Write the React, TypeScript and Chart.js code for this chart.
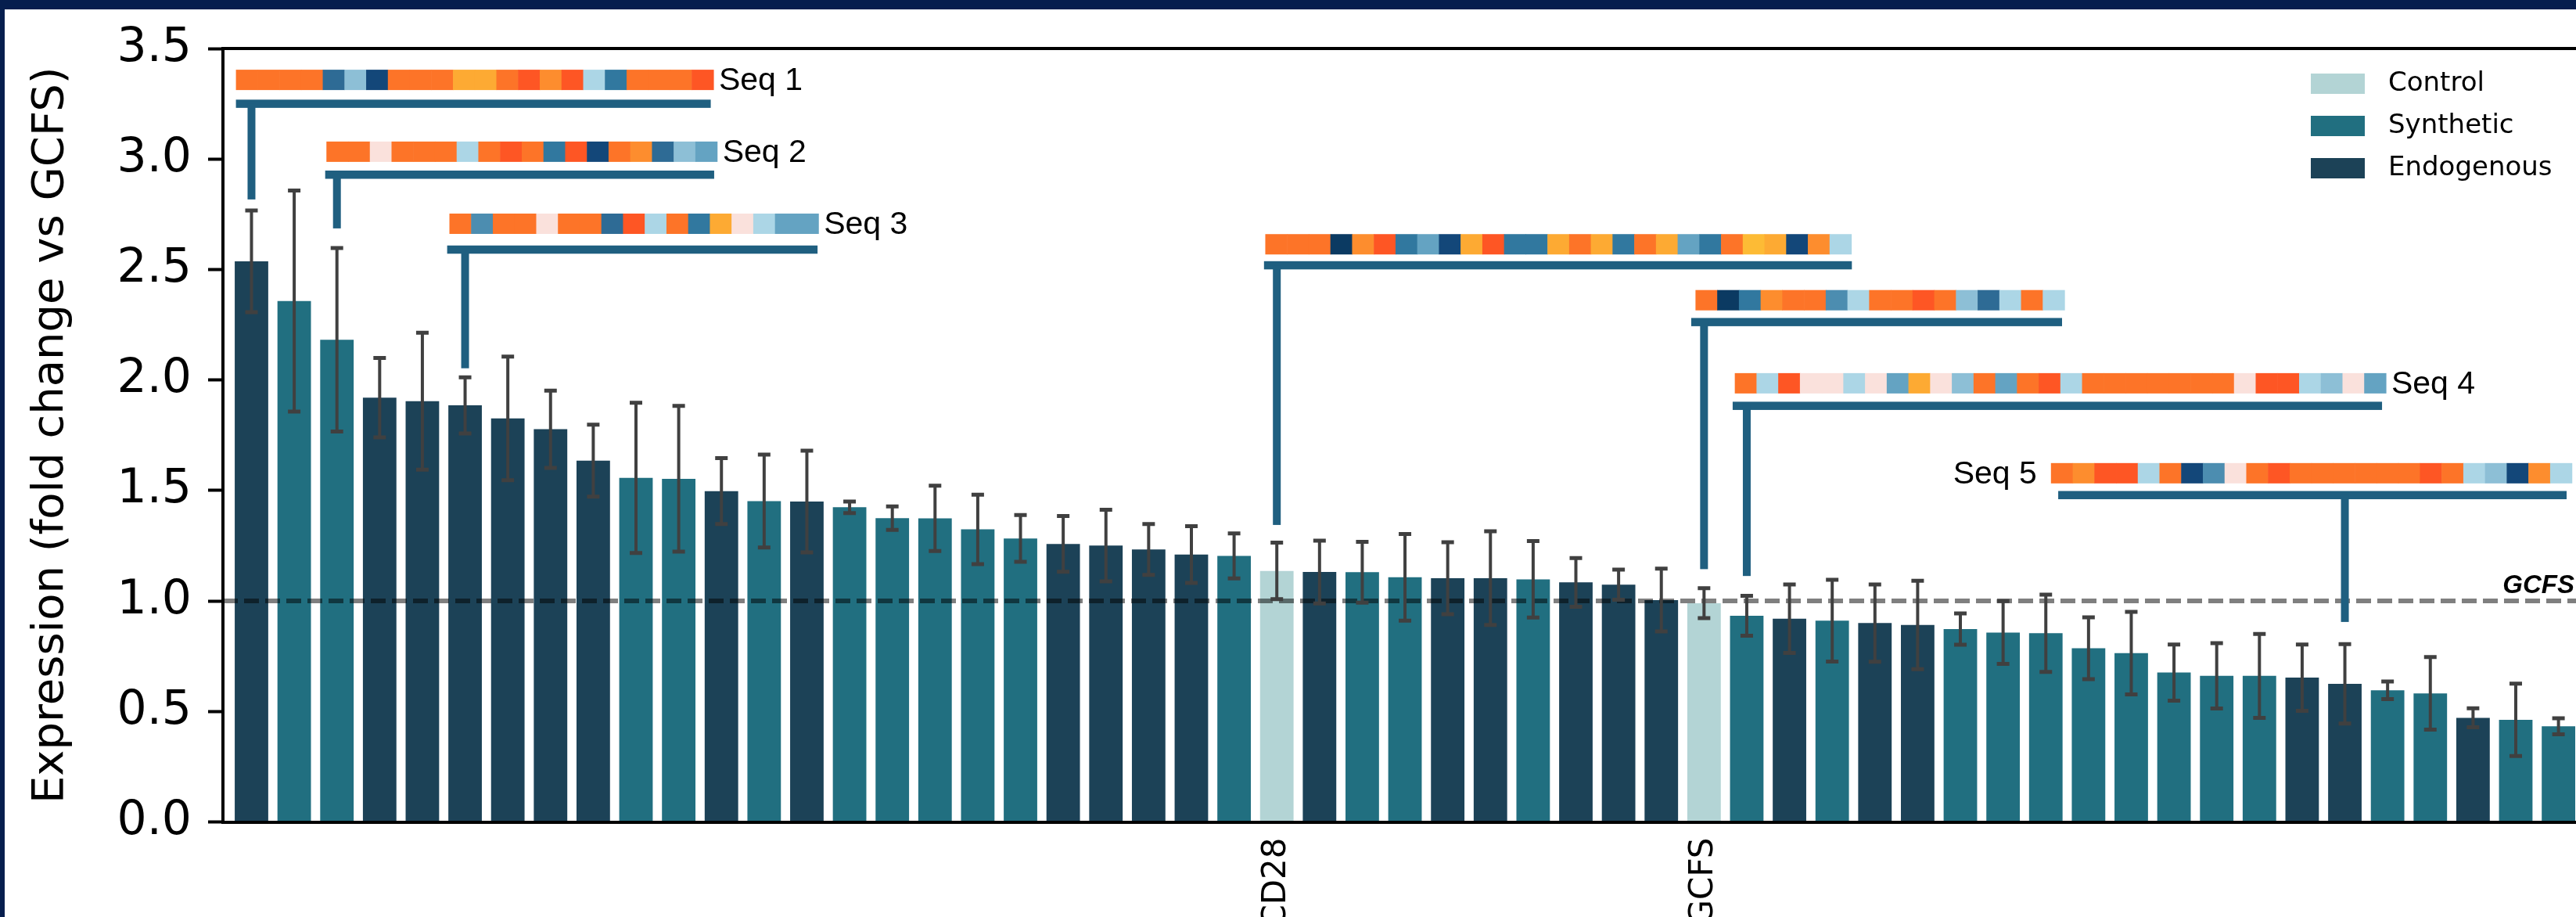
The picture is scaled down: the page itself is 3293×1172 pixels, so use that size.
import React, { useEffect, useRef } from "react";
import { Chart, registerables } from "chart.js";

Chart.register(...registerables);

// ---------- data ----------
const values = [
  2.537, 2.357, 2.182, 1.92, 1.904, 1.885, 1.826, 1.777, 1.635, 1.557, 1.553, 1.497, 1.452, 1.45, 1.424,
  1.375, 1.374, 1.324, 1.283, 1.258, 1.251, 1.233, 1.21, 1.204, 1.136, 1.131, 1.13, 1.107, 1.103, 1.103,
  1.098, 1.084, 1.074, 1.004, 0.99, 0.933, 0.92, 0.911, 0.9, 0.891, 0.873, 0.857, 0.854, 0.786, 0.764,
  0.676, 0.661, 0.661, 0.653, 0.625, 0.596, 0.582, 0.471, 0.462, 0.433,
];
const errors = [
  0.23, 0.5, 0.415, 0.18, 0.31, 0.127, 0.28, 0.175, 0.163, 0.34, 0.33, 0.149, 0.21, 0.23, 0.026,
  0.053, 0.148, 0.157, 0.106, 0.126, 0.162, 0.115, 0.128, 0.102, 0.128, 0.142, 0.138, 0.196, 0.163, 0.212,
  0.173, 0.11, 0.068, 0.142, 0.068, 0.09, 0.155, 0.185, 0.175, 0.2, 0.071, 0.142, 0.175, 0.14, 0.187,
  0.127, 0.148, 0.19, 0.15, 0.18, 0.04, 0.164, 0.043, 0.164, 0.036,
];
// C = Control, S = Synthetic, E = Endogenous
const groups = [
  "E", "S", "S", "E", "E", "E", "E", "E", "E", "S", "S", "E", "S", "E", "S",
  "S", "S", "S", "S", "E", "E", "E", "E", "S", "C", "E", "S", "S", "E", "E",
  "S", "E", "E", "E", "C", "S", "E", "S", "E", "E", "S", "S", "S", "S", "S",
  "S", "S", "S", "E", "E", "S", "S", "E", "S", "S",
];
const groupCodes = ["C", "S", "E"];
const groupNames = ["Control", "Synthetic", "Endogenous"];
const groupColors = ["#b3d4d5", "#216f80", "#1c4257"];

const namedIndex = [24, 34];
const namedLabels = ["CD28", "GCFS"];
const yTickValues = [0, 0.5, 1, 1.5, 2, 2.5, 3, 3.5];
const refValue = 1.0;
const refLabel = "GCFS";
const yTitle = "Expression (fold change vs GCFS)";

// ---------- sequence annotations (x in bar-index units, y in data units) ----------
const seqLabels = ["Seq 1", "Seq 2", "Seq 3", "", "", "Seq 4", "Seq 5"];
const seqLabelSide = ["right", "right", "right", "none", "none", "right", "left"];
const seqBar = [0, 2, 5, 24, 34, 35, 49];
const seqStripStart = [-0.364, 1.754, 4.633, 23.73, 33.8, 34.72, 42.12];
const seqStripY = [3.358, 3.033, 2.707, 2.614, 2.361, 1.985, 1.578];
const seqBracketStart = [-0.364, 1.725, 4.58, 23.7, 33.7, 34.67, 42.29];
const seqBracketEnd = [10.75, 10.83, 13.25, 37.46, 42.38, 49.87, 54.19];
const seqBracketY = [3.25, 2.929, 2.59, 2.519, 2.262, 1.883, 1.479];
const seqLineEnd = [2.817, 2.686, 2.053, 1.344, 1.144, 1.113, 0.905];
const seqCells = [
  "oooodmnoooyyorarlsooor",
  "oopooolorosrnoadmb",
  "ocoopoodrlosyplbb",
  "oookarsbnyrssyoysoybsoYynal",
  "oksaooclooromdlol",
  "olrpplpbypmoborloooooooprrlmpb",
  "oarrloncporoooooorolmnal",
];
const cellCodes = ["r", "o", "a", "y", "Y", "p", "l", "m", "b", "c", "s", "d", "n", "k"];
const cellPalette = [
  "#fe5624", "#fd7428", "#fd8d2e", "#fdaa33", "#fdbb35", "#fae1dc", "#acd6e6",
  "#8dbfd6", "#64a3c2", "#4c8db0", "#31789f", "#2e6b95", "#134779", "#0b3a62",
];
const cellWidth = 0.508;

const colorOf = (g: string) => groupColors[groupCodes.indexOf(g)];

const overlayPlugin = {
  id: "overlay",
  afterDatasetsDraw(chart: any) {
    const { ctx, chartArea, scales } = chart;
    const x = scales.x;
    const y = scales.y;
    ctx.save();

    // reference dashed line
    const ry = y.getPixelForValue(refValue);
    ctx.strokeStyle = "rgba(0,0,0,0.5)";
    ctx.lineWidth = 6;
    ctx.setLineDash([19, 8]);
    ctx.beginPath();
    ctx.moveTo(chartArea.left, ry);
    ctx.lineTo(chartArea.right, ry);
    ctx.stroke();
    ctx.setLineDash([]);

    // reference label
    ctx.fillStyle = "#000";
    ctx.font = 'italic bold 33px "Liberation Sans"';
    ctx.textAlign = "right";
    ctx.textBaseline = "alphabetic";
    ctx.fillText(refLabel, chartArea.right - 2, ry - 10);

    // error bars
    ctx.strokeStyle = "#404040";
    values.forEach((v, i) => {
      const px = x.getPixelForValue(i);
      const t = y.getPixelForValue(v + errors[i]);
      const b = y.getPixelForValue(v - errors[i]);
      ctx.lineWidth = 4;
      ctx.beginPath();
      ctx.moveTo(px, t);
      ctx.lineTo(px, b);
      ctx.stroke();
      ctx.lineWidth = 5;
      ctx.beginPath();
      ctx.moveTo(px - 8, t);
      ctx.lineTo(px + 8, t);
      ctx.moveTo(px - 8, b);
      ctx.lineTo(px + 8, b);
      ctx.stroke();
    });

    // sequence strips, brackets, connectors
    const bracketColor = "#1f5f80";
    seqCells.forEach((cells, k) => {
      const yc = y.getPixelForValue(seqStripY[k]);
      const h = 26;
      for (let j = 0; j < cells.length; j++) {
        const x0 = x.getPixelForValue(seqStripStart[k] + j * cellWidth);
        const x1 = x.getPixelForValue(seqStripStart[k] + (j + 1) * cellWidth);
        ctx.fillStyle = cellPalette[cellCodes.indexOf(cells[j])];
        ctx.fillRect(x0, yc - h / 2, x1 - x0 + 0.6, h);
      }
      const sx0 = x.getPixelForValue(seqStripStart[k]);
      const sx1 = x.getPixelForValue(seqStripStart[k] + cells.length * cellWidth);

      const by = y.getPixelForValue(seqBracketY[k]);
      const bx0 = x.getPixelForValue(seqBracketStart[k]);
      const bx1 = x.getPixelForValue(seqBracketEnd[k]);
      ctx.fillStyle = bracketColor;
      ctx.fillRect(bx0, by - 5.25, bx1 - bx0, 10.5);
      const lx = x.getPixelForValue(seqBar[k]);
      const ly = y.getPixelForValue(seqLineEnd[k]);
      ctx.fillRect(lx - 5, by, 10, ly - by);

      if (seqLabelSide[k] !== "none") {
        ctx.fillStyle = "#000";
        ctx.font = '41px "Liberation Sans"';
        ctx.textBaseline = "middle";
        if (seqLabelSide[k] === "right") {
          ctx.textAlign = "left";
          ctx.fillText(seqLabels[k], sx1 + 7, yc + 2);
        } else {
          ctx.textAlign = "right";
          ctx.fillText(seqLabels[k], sx0 - 18, yc + 2);
        }
      }
    });

    // legend
    ctx.font = '34px "DejaVu Sans"';
    ctx.textAlign = "left";
    ctx.textBaseline = "middle";
    groupNames.forEach((name, k) => {
      const cy = chartArea.top + 45 + k * 54;
      const sx = chartArea.right - 339;
      ctx.fillStyle = groupColors[k];
      ctx.fillRect(sx, cy - 13, 69, 26);
      ctx.fillStyle = "#000";
      ctx.fillText(name, sx + 99, cy);
    });

    // top spine
    ctx.strokeStyle = "#000";
    ctx.lineWidth = 4;
    ctx.beginPath();
    ctx.moveTo(chartArea.left, chartArea.top);
    ctx.lineTo(chartArea.right, chartArea.top);
    ctx.stroke();

    ctx.restore();
  },
};

export default function App() {
  const canvasRef = useRef<HTMLCanvasElement | null>(null);

  useEffect(() => {
    if (!canvasRef.current) return;
    const chart = new Chart(canvasRef.current, {
      type: "bar",
      data: {
        datasets: [
          {
            label: "Expression",
            data: values.map((v, i) => ({ x: i, y: v })),
            backgroundColor: groups.map(colorOf),
            borderWidth: 0,
            barPercentage: 0.784,
            categoryPercentage: 1.0,
          },
        ],
      },
      options: {
        animation: false,
        responsive: true,
        maintainAspectRatio: false,
        layout: { padding: { top: 62, left: 0, right: 0, bottom: 0 } },
        plugins: { legend: { display: false }, tooltip: { enabled: false } },
        scales: {
          x: {
            type: "linear",
            offset: false,
            min: -0.668,
            max: 54.41,
            afterBuildTicks: (s: any) => {
              s.ticks = namedIndex.map((v) => ({ value: v }));
            },
            afterFit: (s: any) => {
              s.height = 121.5;
            },
            ticks: {
              autoSkip: false,
              minRotation: 90,
              maxRotation: 90,
              padding: 20,
              color: "#000",
              font: { family: "DejaVu Sans", size: 42 },
              callback: (v: any) => {
                const k = namedIndex.indexOf(Number(v));
                return k >= 0 ? namedLabels[k] : "";
              },
            },
            grid: { display: false, drawTicks: false },
            border: { display: true, color: "#000", width: 4, z: 1 },
          },
          y: {
            min: 0,
            max: 3.5,
            afterBuildTicks: (s: any) => {
              s.ticks = yTickValues.map((v) => ({ value: v }));
            },
            afterFit: (s: any) => {
              s.width = 285;
            },
            ticks: {
              padding: 21,
              color: "#000",
              font: { family: "DejaVu Sans", size: 60 },
              callback: (v: any) => Number(v).toFixed(1),
            },
            grid: {
              drawOnChartArea: false,
              drawTicks: true,
              tickLength: 19,
              tickWidth: 4,
              tickColor: "#000",
            },
            border: { display: true, color: "#000", width: 4, z: 1 },
            title: {
              display: true,
              text: yTitle,
              color: "#000",
              font: { family: "DejaVu Sans", size: 56 },
              padding: { top: 32, bottom: 0 },
            },
          },
        },
      } as any,
      plugins: [overlayPlugin],
    });
    return () => chart.destroy();
  }, []);

  return (
    <div
      style={{
        position: "fixed",
        left: 0,
        top: 0,
        width: "3293px",
        height: "1172px",
        background: "#fff",
        overflow: "hidden",
      }}
    >
      <canvas ref={canvasRef} />
      <div style={{ position: "absolute", left: 0, top: 0, width: "3293px", height: "12px", background: "#061e4e" }} />
      <div style={{ position: "absolute", left: 0, top: 0, width: "6px", height: "1172px", background: "#061e4e" }} />
    </div>
  );
}
